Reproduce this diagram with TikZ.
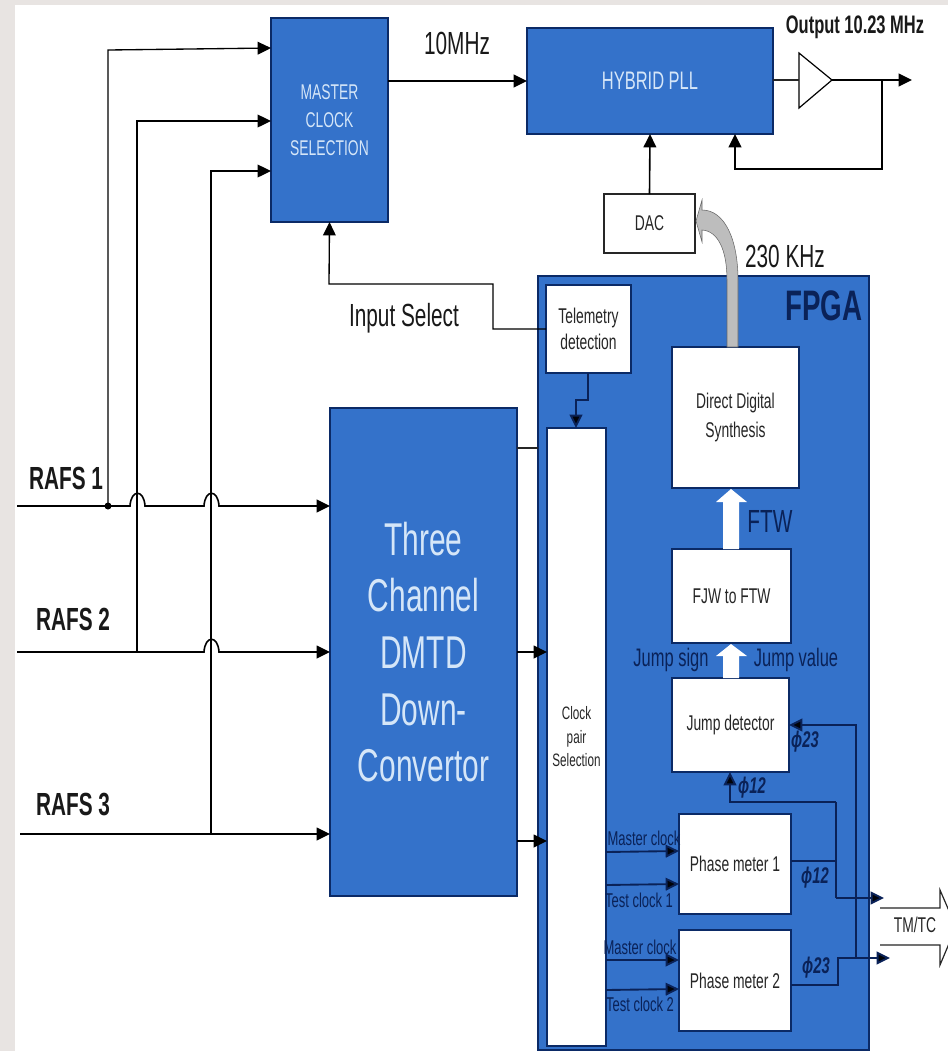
\documentclass[tikz,border=0pt]{standalone}
\usepackage{fontspec}
\setmainfont[FakeStretch=0.65]{Liberation Sans}
\usetikzlibrary{arrows.meta,calc}
\definecolor{fpgablue}{HTML}{3472CA}
\definecolor{navy}{HTML}{0A2258}
\definecolor{edgeblue}{HTML}{0B2A66}
\definecolor{palefont}{HTML}{D5E6F8}
\definecolor{margin}{HTML}{E8E4E2}
\definecolor{greyarrow}{HTML}{BDBDBD}
\newcommand\fsz[2]{\fontsize{#1}{#2}\selectfont}
\tikzset{
  x=0.75pt,y=-0.75pt,
  bluebox/.style={draw=edgeblue,fill=fpgablue,line width=1.1pt,inner sep=0pt,outer sep=0pt,text=palefont,align=flush center},
  whitebox/.style={draw=edgeblue,fill=white,line width=1.1pt,inner sep=0pt,outer sep=0pt,text=black!85,align=flush center},
  plainbox/.style={draw=black!85,fill=white,line width=0.9pt,inner sep=0pt,outer sep=0pt,text=black!85,align=flush center},
  lab/.style={inner sep=0pt,text=black!90,align=center},
  navylab/.style={inner sep=0pt,text=navy,align=center},
  arr/.style={line width=1.2pt,draw=black,-{Triangle[length=10pt,width=9.5pt]}},
  thinarr/.style={line width=1.0pt,draw=black,-{Triangle[length=10pt,width=9.5pt]}},
  narr/.style={line width=1.4pt,draw=navy,-{Triangle[length=10pt,width=9.5pt,fill=black!90!navy]}},
  wire/.style={line width=1.0pt,draw=black!85},
  nwire/.style={line width=1.4pt,draw=navy},
  bigarrow/.style={fill=white,draw=none},
}
% box from corner pixels: name, x1,y1,x2,y2, style, text
\newcommand\pbox[7]{%
  \pgfmathsetmacro\cxx{(#2+#4)/2}\pgfmathsetmacro\cyy{(#3+#5)/2}%
  \pgfmathsetmacro\wdd{(#4-#2)*0.75}\pgfmathsetmacro\htt{(#5-#3)*0.75}%
  \node[#6,minimum width=\wdd pt,minimum height=\htt pt,text width=\wdd pt] (#1) at (\cxx,\cyy) {#7};}
\begin{document}
\begin{tikzpicture}
\useasboundingbox (0,0) rectangle (948,1051);
% page margin
\fill[white] (0,0) rectangle (948,1051);
\fill[margin] (0,0) rectangle (15,1051);
\fill[margin] (0,0) rectangle (948,5);

% blocks
\pbox{master}{271}{18}{388}{222}{bluebox,font=\fsz{16}{21}}{MASTER\\CLOCK\\SELECTION\\[2pt]}
\pbox{hybrid}{527}{28}{773}{134}{bluebox,font=\fsz{19}{23}}{HYBRID PLL}
\pbox{dac}{604}{194}{695}{253}{plainbox,font=\fsz{16}{20}}{DAC}
\pbox{dmtd}{330}{408}{517}{896}{bluebox,font=\fsz{34.5}{42.5}}{Three\\Channel\\DMTD\\Down-\\Convertor}
\pbox{fpga}{538}{276}{869}{1050}{bluebox}{}
\pbox{tele}{546}{285}{631}{373}{whitebox,font=\fsz{16}{20}}{Telemetry\\detection}
\pbox{clock}{547}{428}{606}{1046}{whitebox,font=\fsz{13.5}{17.6}}{Clock\\pair\\Selection}
\pbox{dds}{672}{347}{799}{488}{whitebox,font=\fsz{16}{21.7}}{Direct Digital\\Synthesis}
\pbox{fjw}{672}{549}{791}{643}{whitebox,font=\fsz{16}{20}}{FJW to FTW}
\pbox{jump}{672}{678}{789}{772}{whitebox,font=\fsz{16}{20}}{Jump detector}
\pbox{pm1}{679}{814}{791}{914}{whitebox,font=\fsz{16}{20}}{Phase meter 1}
\pbox{pm2}{679}{930}{791}{1031}{whitebox,font=\fsz{16}{20}}{Phase meter 2}

% amplifier
\coordinate (ampin) at (799,80);
\coordinate (ampout) at (832,80);
\draw[line width=0.9pt,fill=white] (799,53) -- (ampout) -- (799,108) -- cycle;

% free ends and junctions
\coordinate (r1a) at (17,506);
\coordinate (r2a) at (17,652);
\coordinate (r3a) at (20,834);
\coordinate (dmtd1) at (dmtd.west |- r1a);
\coordinate (dmtd2) at (dmtd.west |- r2a);
\coordinate (dmtd3) at (dmtd.west |- r3a);
\coordinate (dot1) at (108,506);
\coordinate (j2) at (137,652);
\coordinate (j3) at (211,834);
\coordinate (m1) at (271,48);
\coordinate (m2) at (271,121);
\coordinate (m3) at (271,171);

% RAFS lines with jumps
\draw[arr] (r1a) -- (130,506) .. controls (131,489) and (144,489) .. (145,506)
  -- (204,506) .. controls (205,489) and (218,489) .. (219,506) -- (dmtd1);
\draw[arr] (r2a) -- (204,652) .. controls (205,635) and (218,635) .. (219,652) -- (dmtd2);
\draw[arr] (r3a) -- (dmtd3);
\fill (dot1) circle (3.5);
\draw[thinarr] (dot1) -- (108,50) -- (m1);
\draw[thinarr] (j2) -- (137,121) -- (m2);
\draw[thinarr] (j3) -- (211,171) -- (m3);

% top row
\draw[arr] (388,81) -- (hybrid.west |- 0,81);
\draw[wire] (hybrid.east |- 0,80) -- (ampin);
\draw[arr] (ampout) -- (912,80);
\coordinate (fb) at (882,80);
\draw[arr] (fb) -- (882,169) -- (735,169) -- (735,134);
\draw[arr] (dac.north) -- (650,134);

% input select
\draw[thinarr] (tele.west |- 0,329) -- (493,329) -- (493,284) -- (329,284) -- (master.south);

% DMTD to clock pair
\draw[wire] (517,448) -- (fpga.west |- 0,448);
\draw[arr] (517,652) -- (clock.west |- 0,652);
\draw[arr] (517,841) -- (clock.west |- 0,841);

% telemetry to clock pair
\draw[narr] (588,373) -- (588,400) -- (576,400) -- (576,428);

% grey arrow DDS -> DAC
\fill[greyarrow,draw=black!60,line width=0.4pt]
  (727,347) -- (727,280) .. controls (727,250) and (718,231) .. (702,230)
  -- (702,242) -- (696,221) -- (702,200) -- (702,210)
  .. controls (725,210) and (738,240) .. (738,280) -- (738,347) -- cycle;

% white arrows
\fill[bigarrow] (723,549) -- (723,502) -- (716,502) -- (731,489) -- (747,502) -- (739,502) -- (739,549) -- cycle;
\fill[bigarrow] (723,678) -- (723,656) -- (716,656) -- (731,644) -- (747,656) -- (739,656) -- (739,678) -- cycle;

% clocks into phase meters
\draw[narr] (clock.east |- 0,852) -- (pm1.west |- 0,851);
\draw[narr] (clock.east |- 0,885) -- (pm1.west |- 0,884);
\draw[narr] (clock.east |- 0,960) -- (pm2.west |- 0,960);
\draw[narr] (clock.east |- 0,990) -- (pm2.west |- 0,989);

% phase outputs
\coordinate (tm1) at (884,898);
\coordinate (tm2) at (890,958);
\draw[nwire] (pm1.east |- 0,861) -- (836,861);
\draw[narr] (836,802) -- (730,802) -- (730,772);
\draw[nwire] (836,802) -- (836,898);
\draw[narr] (836,898) -- (tm1);
\draw[narr] (pm2.east |- 0,985) -- (838,985) -- (838,958) -- (tm2);
\draw[narr] (856,958) -- (856,725) -- (jump.east |- 0,725);

% TM/TC hollow arrow
\draw[line width=0.9pt,draw=black!85] (880,908) -- (940,908) -- (940,890) -- (956,927) -- (940,965) -- (940,945) -- (880,945);
\node[lab,text=black!85] (tmtc) at (915,925) {\fsz{16}{20}TM/TC};

% labels
\node[lab] (l10) at (457,43) {\fsz{24}{28}10MHz};
\node[lab] (lout) at (855,27) {\fsz{19}{23}\bfseries Output 10.23 MHz};
\node[lab] (l230) at (785,256) {\fsz{24}{28}230 KHz};
\node[lab] (lin) at (404,318) {\fsz{24}{28}Input Select};
\node[lab] (lr1) at (66,478) {\fsz{24}{28}\bfseries RAFS 1};
\node[lab] (lr2) at (73,619) {\fsz{24}{28}\bfseries RAFS 2};
\node[lab] (lr3) at (73,804) {\fsz{24}{28}\bfseries RAFS 3};
\node[navylab] (lfpga) at (824,306) {\fsz{32}{36}\bfseries FPGA};
\node[navylab] (lftw) at (770,521) {\fsz{24}{28}FTW};
\node[navylab] (ljs) at (671,660) {\fsz{19}{23}Jump sign};
\node[navylab] (ljv) at (796,660) {\fsz{19}{23}Jump value};
\node[navylab] (lp1) at (752,788) {\fsz{17}{20}\bfseries\itshape ϕ12};
\node[navylab] (lp2) at (805,742) {\fsz{17}{20}\bfseries\itshape ϕ23};
\node[navylab] (lp3) at (815,878) {\fsz{17}{20}\bfseries\itshape ϕ12};
\node[navylab] (lp4) at (816,968) {\fsz{17}{20}\bfseries\itshape ϕ23};
\node[navylab] (lm1) at (644,838) {\fsz{15}{18}Master clock};
\node[navylab] (lt1) at (639,900) {\fsz{15}{18}Test clock 1};
\node[navylab] (lm2) at (640,947) {\fsz{15}{18}Master clock};
\node[navylab] (lt2) at (640,1004) {\fsz{15}{18}Test clock 2};
\end{tikzpicture}
\end{document}
